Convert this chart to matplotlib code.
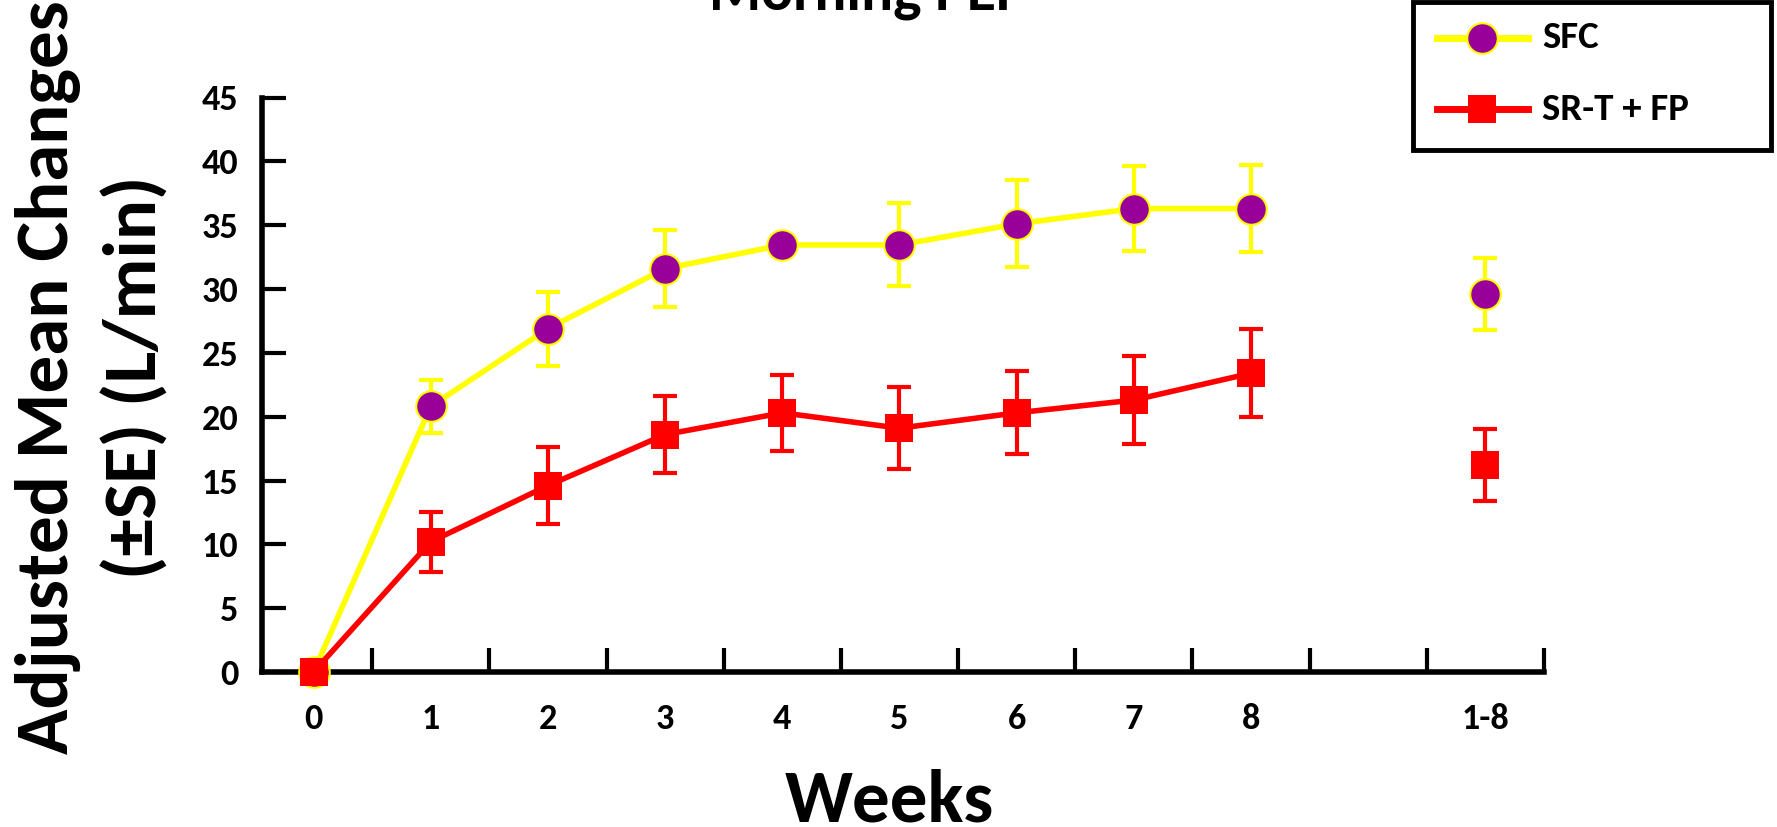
import matplotlib
matplotlib.use("Agg")
import matplotlib.pyplot as plt
from matplotlib import font_manager as fm
from matplotlib.lines import Line2D
from matplotlib.patches import Rectangle

# ---- data ----
week_labels = ["0", "1", "2", "3", "4", "5", "6", "7", "8", "1-8"]
week_pos = [0, 1, 2, 3, 4, 5, 6, 7, 8, 10]
sfc_mean = [0, 20.8, 26.9, 31.6, 33.45, 33.45, 35.1, 36.3, 36.3, 29.6]
sfc_se = [0, 2.1, 2.9, 3.0, 0, 3.25, 3.4, 3.35, 3.4, 2.8]
srt_mean = [0, 10.2, 14.6, 18.6, 20.3, 19.1, 20.3, 21.3, 23.4, 16.2]
srt_se = [0, 2.35, 3.0, 3.0, 3.0, 3.2, 3.25, 3.45, 3.45, 2.8]
yticks = [0, 5, 10, 15, 20, 25, 30, 35, 40, 45]
series_names = ["SFC", "SR-T + FP"]

names = {f.name for f in fm.fontManager.ttflist}
def pick(cands):
    for c in cands:
        if c in names:
            return c
    return "DejaVu Sans"
cal = pick(["Carlito", "Lato", "Liberation Sans Narrow", "Open Sans", "Liberation Sans"])

W, H = 1777, 827
fig = plt.figure(figsize=(W / 100, H / 100), dpi=100)
ax = fig.add_axes([262 / W, 1 - 672 / H, (1544 - 262) / W, (672 - 97.5) / H])

YEL = "#FFFF00"
PUR = "#990099"
RED = "#FF0000"

n = 9  # connected weeks 0..8
ax.plot(week_pos[:n], sfc_mean[:n], color=YEL, lw=4, zorder=3, clip_on=False)
ax.errorbar(week_pos[1:], sfc_mean[1:], yerr=sfc_se[1:],
            fmt="none", ecolor=YEL, elinewidth=3, capsize=8.5, capthick=3, zorder=2)
ax.plot(week_pos, sfc_mean, ls="none", marker="o", ms=22, mfc=PUR, mec=YEL, mew=1.5,
        zorder=4, clip_on=False)

ax.plot(week_pos[:n], srt_mean[:n], color=RED, lw=4, zorder=5, clip_on=False)
ax.errorbar(week_pos[1:], srt_mean[1:], yerr=srt_se[1:], fmt="none", ecolor=RED,
            elinewidth=3, capsize=8.5, capthick=3, zorder=5)
ax.plot(week_pos, srt_mean, ls="none", marker="s", ms=20, mfc=RED, mec=RED, mew=0,
        zorder=6, clip_on=False)

ax.set_xlim(-0.44, 10.5)
ax.set_ylim(0, 45)
for s in ["top", "right"]:
    ax.spines[s].set_visible(False)
for s in ["left", "bottom"]:
    ax.spines[s].set_linewidth(4)

ax.set_yticks(yticks)
ax.set_yticklabels([str(v) for v in yticks], fontsize=26, fontweight="bold", family=cal)
ax.tick_params(axis="y", direction="in", length=17, width=3, pad=17)

ax.set_xticks([k + 0.5 for k in range(11)])
ax.set_xticklabels([""] * 11)
ax.tick_params(axis="x", which="major", direction="in", length=17, width=3)
ax.set_xticks(week_pos, minor=True)
ax.set_xticklabels(week_labels, minor=True, fontsize=26, fontweight="bold", family=cal)
ax.tick_params(axis="x", which="minor", length=0, pad=22)

# axis titles
fig.text(889 / W, 1 - 822 / H, "Weeks", ha="center", va="baseline", fontsize=54,
         fontweight="bold", family=cal)
fig.text(48 / W, 1 - 377 / H, "Adjusted Mean Changes", rotation=90, ha="center",
         va="center", fontsize=54, fontweight="bold", family=cal)
fig.text(135 / W, 1 - 377 / H, "(±SE) (L/min)", rotation=90, ha="center",
         va="center", fontsize=54, fontweight="bold", family=cal)
fig.text(866 / W, 1 - 10 / H, "Morning PEF", ha="center", va="baseline", fontsize=43,
         fontweight="bold", family=cal)

# legend drawn manually in figure pixel coordinates
def fx(px):
    return px / W
def fy(py):
    return 1 - py / H

fig.patches.append(Rectangle((fx(1413), fy(150)), fx(1771) - fx(1413), fy(2) - fy(150),
                             transform=fig.transFigure, fill=False, ec="black", lw=3.5,
                             zorder=10))
styles = [
    dict(color=YEL, marker="o", ms=22, mfc=PUR, mec=YEL, mew=1.5),
    dict(color=RED, marker="s", ms=20, mfc=RED, mec=RED, mew=0),
]
for name, st, yy in zip(series_names, styles, [38, 109]):
    fig.lines.append(Line2D([fx(1437), fx(1528)], [fy(yy), fy(yy)], lw=5,
                            transform=fig.transFigure, color=st["color"], zorder=11))
    fig.lines.append(Line2D([fx(1482)], [fy(yy)], ls="none", transform=fig.transFigure,
                            marker=st["marker"], ms=st["ms"], mfc=st["mfc"], mec=st["mec"],
                            mew=st["mew"], zorder=12))
    fig.text(fx(1542), fy(yy), name, ha="left", va="center", fontsize=28,
             fontweight="bold", family=cal)

fig.savefig("out.png", dpi=100)
